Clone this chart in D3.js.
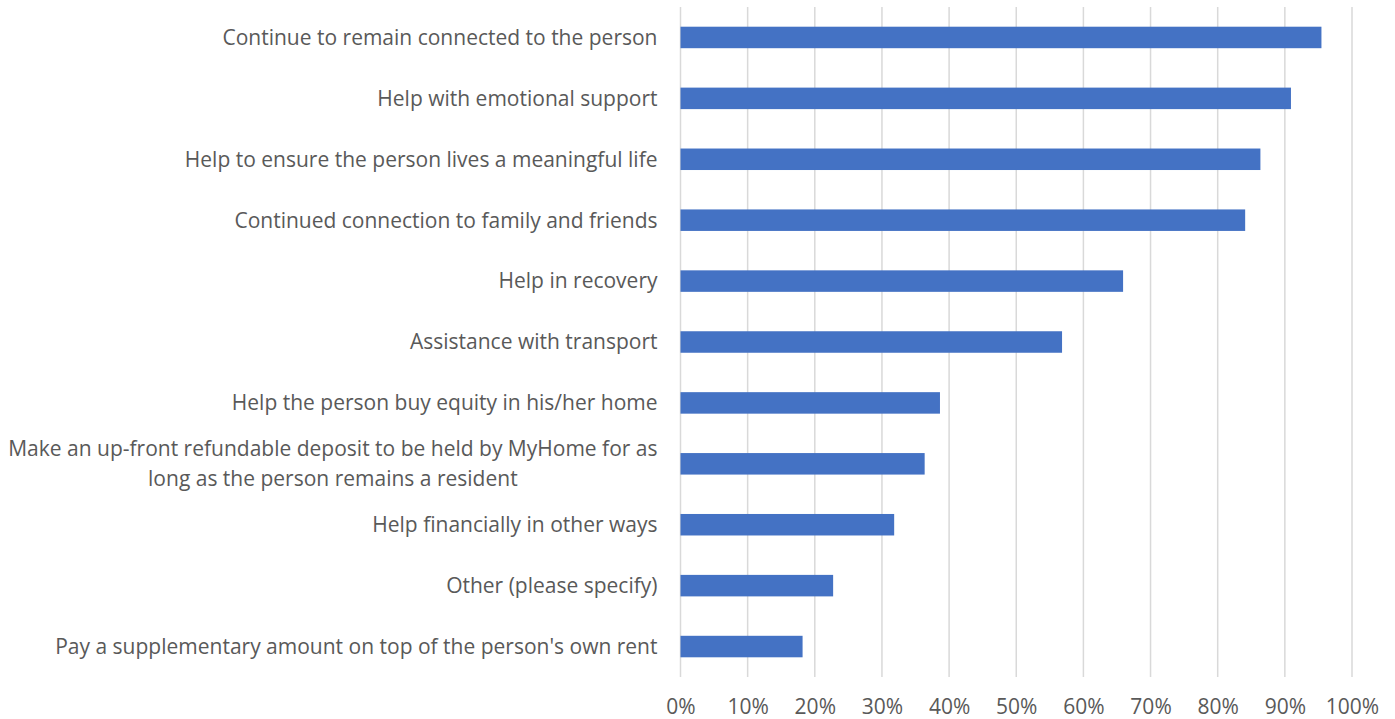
<!DOCTYPE html>
<html>
<head>
<meta charset="utf-8">
<script src="https://cdn.jsdelivr.net/npm/d3@7"></script>
<style>
  html, body { margin: 0; padding: 0; background: #fff; }
  svg { display: block; }
</style>
</head>
<body>
<svg id="chart" width="1395" height="719"></svg>
<script>
// Survey responses: share of respondents choosing each form of family support
const categories = [
  "Continue to remain connected to the person",
  "Help with emotional support",
  "Help to ensure the person lives a meaningful life",
  "Continued connection to family and friends",
  "Help in recovery",
  "Assistance with transport",
  "Help the person buy equity in his/her home",
  "Make an up-front refundable deposit to be held by MyHome for as|long as the person remains a resident",
  "Help financially in other ways",
  "Other (please specify)",
  "Pay a supplementary amount on top of the person's own rent"
];
const values = [0.9545, 0.9091, 0.8636, 0.8409, 0.6591, 0.5682, 0.3864, 0.3636, 0.3182, 0.2273, 0.1818];
const tickValues = [0, 0.1, 0.2, 0.3, 0.4, 0.5, 0.6, 0.7, 0.8, 0.9, 1.0];

const svg = d3.select("#chart");
const margin = { top: 7, right: 43, bottom: 42, left: 680.5 };
const W = 1395, H = 719;
const innerW = W - margin.left - margin.right;
const innerH = H - margin.top - margin.bottom;

const font = "'Open Sans', 'Noto Sans', sans-serif";
const textColor = "#595959";
const fontSize = "21px";

const x = d3.scaleLinear().domain([0, 1]).range([0, innerW]);
const y = d3.scaleBand().domain(categories).range([0, innerH]).paddingInner(0.647).paddingOuter(0.3235);

const g = svg.append("g").attr("transform", `translate(${margin.left},${margin.top})`);

// vertical gridlines
g.append("g")
  .selectAll("line")
  .data(tickValues)
  .join("line")
  .attr("x1", d => x(d)).attr("x2", d => x(d))
  .attr("y1", 0).attr("y2", innerH)
  .attr("stroke", "#d9d9d9")
  .attr("stroke-width", 1.5);

// bars
g.append("g")
  .selectAll("rect")
  .data(values)
  .join("rect")
  .attr("x", x(0))
  .attr("y", (d, i) => y(categories[i]))
  .attr("width", d => x(d) - x(0))
  .attr("height", y.bandwidth())
  .attr("fill", "#4472c4");

// x axis tick labels
const xAxis = d3.axisBottom(x).tickValues(tickValues).tickFormat(d3.format(".0%")).tickSize(0).tickPadding(0);
const xg = g.append("g").attr("transform", `translate(0,${innerH})`).call(xAxis);
xg.select(".domain").remove();
xg.selectAll("text")
  .attr("y", 30)
  .attr("dy", "0.35em")
  .attr("fill", textColor)
  .style("font-family", font)
  .style("font-size", fontSize);

// category labels, multi-line entries split on "|" and centred as a block
const yg = g.append("g");
categories.forEach(c => {
  const lines = c.split("|");
  const cy = y(c) + y.bandwidth() / 2;
  const t = yg.append("text")
    .attr("fill", textColor)
    .style("font-family", font)
    .style("font-size", fontSize);
  if (lines.length === 1) {
    t.attr("x", -23).attr("y", cy).attr("dy", "0.35em").attr("text-anchor", "end").text(c);
  } else {
    const spans = lines.map((l, k) => t.append("tspan")
      .attr("y", cy + (k - (lines.length - 1) / 2) * 30)
      .attr("dy", "0.35em")
      .text(l));
    const widths = spans.map(s => s.node().getComputedTextLength());
    const maxW = d3.max(widths);
    const centerX = -23 - maxW / 2;
    spans.forEach(s => s.attr("x", centerX).attr("text-anchor", "middle"));
  }
});
</script>
</body>
</html>
